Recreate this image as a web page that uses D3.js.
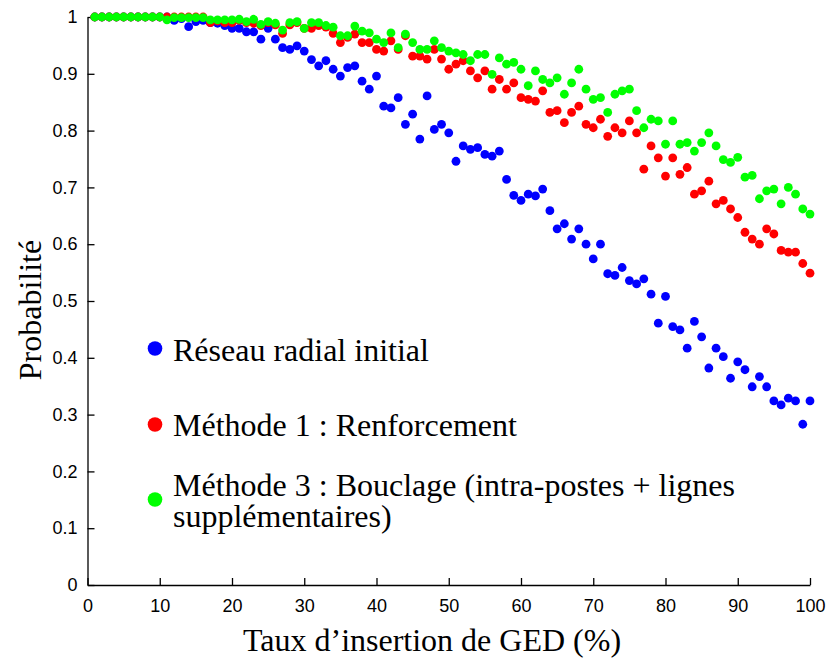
<!DOCTYPE html>
<html>
<head>
<meta charset="utf-8">
<script src="https://cdn.jsdelivr.net/npm/d3@7"></script>
<style>
	body { margin: 0; background: #fff; }
	.axis text { font-family: 'Liberation Sans', Arial, sans-serif; font-size: 18px; fill: #000; }
	.axis path, .axis line { stroke: #000; stroke-width: 1.3; }
	.title { font-family: 'Liberation Serif', 'Times New Roman', serif; font-size: 32px; fill: #000; }
</style>
</head>
<body>
<div class="chart"></div>
<script>
// x = taux d'insertion (1..100 %)
const taux = d3.range(1, 101)

const reseauRadial = [
	1, 1, 1, 1, 1, 1, 1, 1, 1, 1,
	1, 0.994, 0.997, 0.983, 0.992, 0.994, 0.99, 0.989, 0.985, 0.98,
	0.98, 0.974, 0.974, 0.961, 0.98, 0.961, 0.946, 0.943, 0.949, 0.94,
	0.925, 0.914, 0.923, 0.908, 0.896, 0.911, 0.914, 0.887, 0.873, 0.896,
	0.843, 0.84, 0.858, 0.811, 0.829, 0.785, 0.861, 0.802, 0.811, 0.796,
	0.746, 0.773, 0.767, 0.77, 0.758, 0.755, 0.764, 0.714, 0.686, 0.677,
	0.688, 0.685, 0.697, 0.659, 0.627, 0.636, 0.609, 0.627, 0.6, 0.574,
	0.6, 0.548, 0.545, 0.559, 0.536, 0.53, 0.539, 0.512, 0.461, 0.508,
	0.455, 0.449, 0.417, 0.464, 0.437, 0.382, 0.417, 0.402, 0.364, 0.393,
	0.379, 0.349, 0.367, 0.349, 0.324, 0.317, 0.329, 0.324, 0.283, 0.324
]

const methode1 = [
	1, 1, 1, 1, 1, 1, 1, 1, 1, 1,
	1, 1, 1, 1, 1, 1, 0.99, 0.993, 0.99, 0.99,
	0.994, 0.99, 0.989, 0.985, 0.99, 0.986, 0.971, 0.986, 0.99, 0.98,
	0.98, 0.985, 0.982, 0.971, 0.955, 0.964, 0.97, 0.955, 0.955, 0.943,
	0.94, 0.958, 0.943, 0.967, 0.931, 0.931, 0.926, 0.943, 0.926, 0.908,
	0.917, 0.923, 0.905, 0.893, 0.905, 0.873, 0.89, 0.873, 0.884, 0.858,
	0.855, 0.852, 0.87, 0.832, 0.835, 0.814, 0.832, 0.843, 0.811, 0.805,
	0.82, 0.79, 0.805, 0.796, 0.817, 0.796, 0.732, 0.773, 0.752, 0.72,
	0.752, 0.723, 0.735, 0.688, 0.694, 0.711, 0.671, 0.677, 0.662, 0.647,
	0.621, 0.609, 0.6, 0.627, 0.618, 0.589, 0.586, 0.586, 0.566, 0.549
]

const methode3 = [
	1, 1, 1, 1, 1, 1, 1, 1, 1, 1,
	0.995, 0.999, 0.999, 0.999, 0.999, 0.999, 0.995, 0.995, 0.995, 0.995,
	0.996, 0.992, 0.996, 0.987, 0.992, 0.989, 0.977, 0.99, 0.992, 0.98,
	0.99, 0.99, 0.985, 0.982, 0.967, 0.967, 0.984, 0.975, 0.972, 0.961,
	0.955, 0.972, 0.946, 0.97, 0.955, 0.943, 0.943, 0.958, 0.946, 0.94,
	0.937, 0.934, 0.923, 0.934, 0.934, 0.899, 0.928, 0.917, 0.92, 0.908,
	0.879, 0.905, 0.89, 0.884, 0.893, 0.864, 0.884, 0.908, 0.873, 0.855,
	0.858, 0.832, 0.864, 0.87, 0.873, 0.835, 0.805, 0.82, 0.817, 0.776,
	0.817, 0.776, 0.779, 0.764, 0.779, 0.796, 0.773, 0.749, 0.744, 0.753,
	0.718, 0.721, 0.68, 0.694, 0.697, 0.671, 0.7, 0.688, 0.662, 0.653
]

const seriesNames = ['Réseau radial initial', 'Méthode 1 : Renforcement', 'Méthode 3 : Bouclage (intra-postes + lignes']
const seriesColors = ['#0000ff', '#ff0000', '#00ff00']
const xTicks = [0, 10, 20, 30, 40, 50, 60, 70, 80, 90, 100]
const yTicks = [0, 0.1, 0.2, 0.3, 0.4, 0.5, 0.6, 0.7, 0.8, 0.9, 1]
const yTickLabels = ['0', '0.1', '0.2', '0.3', '0.4', '0.5', '0.6', '0.7', '0.8', '0.9', '1']

const W = 828, H = 658
const x0 = 87.5, x1 = 810, yTop = 17, yBot = 585

var svg = d3.select('.chart')
	.append('svg')
	.attr('width', W)
	.attr('height', H)

var xScale = d3.scaleLinear().domain([0, 100]).range([x0, x1])
var yScale = d3.scaleLinear().domain([0, 1]).range([yBot, yTop])

// axes, ticks pointing inward like matlab
var xAxis = d3.axisBottom(xScale)
	.tickValues(xTicks)
	.tickSizeInner(-7)
	.tickSizeOuter(0)
	.tickPadding(14)
	.tickFormat(d3.format('d'))

var yAxis = d3.axisLeft(yScale)
	.tickValues(yTicks)
	.tickSizeInner(-7)
	.tickSizeOuter(0)
	.tickPadding(10)
	.tickFormat((d, i) => yTickLabels[i])

svg.append('g')
	.attr('class', 'axis x-axis')
	.attr('transform', `translate(0, ${yBot})`)
	.call(xAxis)

svg.append('g')
	.attr('class', 'axis y-axis')
	.attr('transform', `translate(${x0}, 0)`)
	.call(yAxis)

// points: blue first, green on top
var allSeries = [reseauRadial, methode1, methode3]
allSeries.forEach((values, k) => {
	svg.append('g')
		.selectAll('circle')
		.data(values)
		.join('circle')
		.attr('cx', (d, i) => xScale(taux[i]))
		.attr('cy', d => yScale(d))
		.attr('r', 4.4)
		.attr('fill', seriesColors[k])
})

// axis titles
svg.append('text')
	.attr('class', 'title')
	.attr('x', 432)
	.attr('y', 651)
	.attr('text-anchor', 'middle')
	.text('Taux d’insertion de GED (%)')

svg.append('text')
	.attr('class', 'title')
	.attr('transform', 'translate(41, 310) rotate(-90)')
	.attr('text-anchor', 'middle')
	.text('Probabilité')

// legend
var legendDots = [348.5, 424.5, 499.5]
var legendBase = [361, 436, 496]
seriesNames.forEach((name, k) => {
	svg.append('circle')
		.attr('cx', 155)
		.attr('cy', legendDots[k])
		.attr('r', 7.3)
		.attr('fill', seriesColors[k])
	svg.append('text')
		.attr('class', 'title')
		.attr('x', 173)
		.attr('y', legendBase[k])
		.text(name)
})
svg.append('text')
	.attr('class', 'title')
	.attr('x', 173)
	.attr('y', 527)
	.text('supplémentaires)')
</script>
</body>
</html>
